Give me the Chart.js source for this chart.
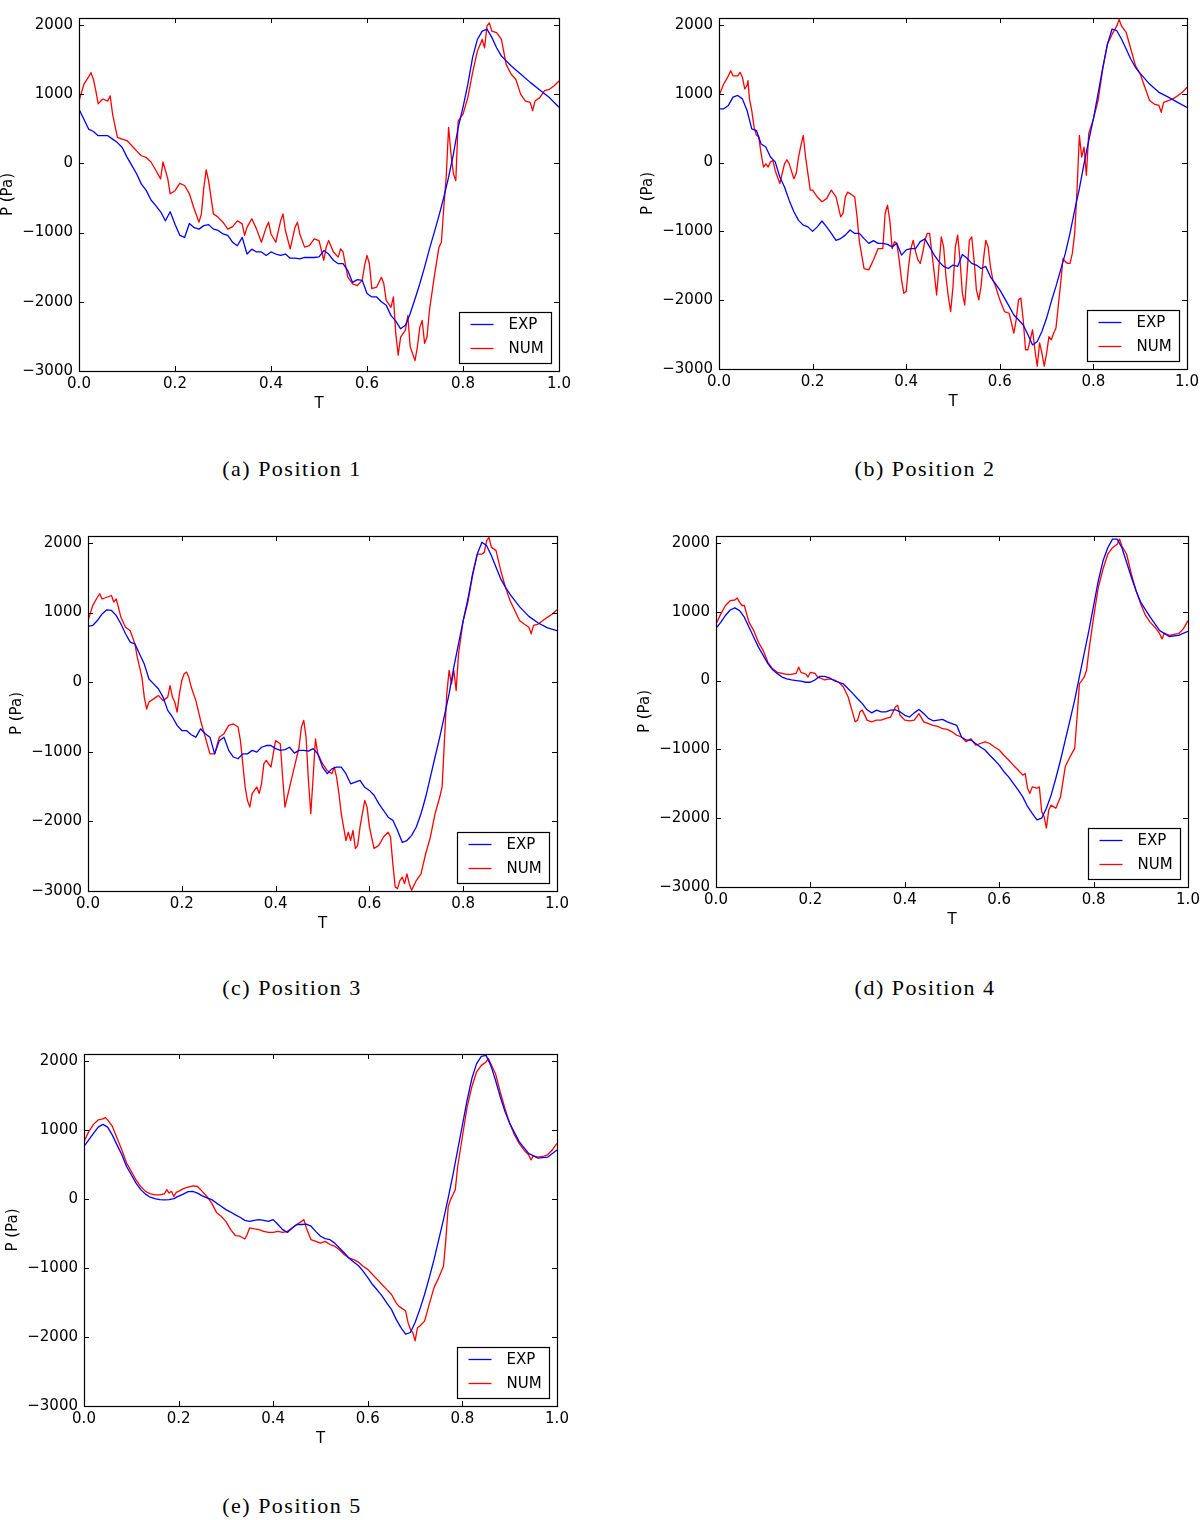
<!DOCTYPE html>
<html>
<head>
<meta charset="utf-8">
<script src="https://cdn.jsdelivr.net/npm/chart.js@4.4.1/dist/chart.umd.min.js"></script>
<style>
  html, body { margin: 0; padding: 0; background: #fff; }
  body { width: 1200px; height: 1520px; position: relative; overflow: hidden; }
  canvas { position: absolute; }
  .cap {
    position: absolute; width: 400px; text-align: center;
    font-family: 'Liberation Serif', serif; font-size: 22px; letter-spacing: 1.5px;
    line-height: 26px; color: #000;
  }
</style>
</head>
<body>
<div class="cap" style="left:92px;top:456px">(a) Position 1</div>
<div class="cap" style="left:725px;top:456px">(b) Position 2</div>
<div class="cap" style="left:92px;top:975px">(c) Position 3</div>
<div class="cap" style="left:725px;top:975px">(d) Position 4</div>
<div class="cap" style="left:92px;top:1493px">(e) Position 5</div>

<script>
// ---------- data ----------
const SERIES = ['EXP', 'NUM'];
const X_TICKS = [0, 0.2, 0.4, 0.6, 0.8, 1.0];
const Y_TICKS = [-3000, -2000, -1000, 0, 1000, 2000];

// EXP curves share one time grid
const T_EXP = [
  0, 0.01, 0.02, 0.03, 0.04, 0.05, 0.06, 0.07, 0.08, 0.09,
  0.10, 0.11, 0.12, 0.13, 0.14, 0.15, 0.16, 0.17, 0.18, 0.19,
  0.20, 0.21, 0.22, 0.23, 0.24, 0.25, 0.26, 0.27, 0.28, 0.29,
  0.30, 0.31, 0.32, 0.33, 0.34, 0.35, 0.36, 0.37, 0.38, 0.39,
  0.40, 0.41, 0.42, 0.43, 0.44, 0.45, 0.46, 0.47, 0.48, 0.49,
  0.50, 0.51, 0.52, 0.53, 0.54, 0.55, 0.56, 0.57, 0.58, 0.59,
  0.60, 0.61, 0.62, 0.63, 0.64, 0.65, 0.66, 0.67, 0.68, 0.69,
  0.70, 0.71, 0.72, 0.73, 0.74, 0.75, 0.76, 0.77, 0.78, 0.79,
  0.80, 0.81, 0.82, 0.83, 0.84, 0.85, 0.86, 0.87, 0.88, 0.89,
  0.90,
  0.92, 0.94, 0.96, 0.98, 1.00,
];

const P_EXP_1 = [
  780, 640, 495, 460, 400, 400, 400, 350, 300, 230,
  90, -30, -150, -300, -390, -530, -610, -700, -830, -700,
  -880, -1040, -1070, -870, -930, -950, -900, -885, -950, -970,
  -1020, -1040, -1140, -1190, -1070, -1310, -1240, -1280, -1280, -1330,
  -1280, -1310, -1330, -1310, -1370, -1370, -1380, -1360, -1360, -1360,
  -1350, -1260, -1310, -1400, -1450, -1450, -1550, -1720, -1680, -1690,
  -1880, -1930, -1930, -2000, -2050, -2200, -2280, -2390, -2340, -2170,
  -1960, -1740, -1500, -1240, -1000, -755, -490, -200, 135, 520,
  810, 1140, 1530, 1790, 1910, 1940, 1820, 1670, 1550, 1480,
  1410,
  1290, 1170, 1060, 950, 810,
];
const P_EXP_2 = [
  780, 780, 830, 950, 975, 925, 755, 490, 465, 270,
  225, 80, 10, -210, -355, -550, -715, -840, -910, -935,
  -1000, -935, -850, -935, -1030, -1130, -1105, -1055, -980, -1030,
  -1030, -1105, -1175, -1135, -1175, -1175, -1190, -1225, -1175, -1345,
  -1270, -1250, -1250, -1150, -1110, -1225, -1345, -1440, -1510, -1540,
  -1490, -1510, -1335, -1390, -1465, -1490, -1540, -1510, -1660, -1755,
  -1850, -1970, -2090, -2215, -2285, -2360, -2500, -2650, -2600, -2455,
  -2260, -2020, -1800, -1560, -1320, -1030, -690, -380, -15, 320,
  635, 1000, 1380, 1720, 1940, 1915, 1795, 1650, 1500, 1380,
  1295,
  1140, 1020, 950, 875, 800,
];
const P_EXP_3 = [
  800, 815, 885, 980, 1040, 1030, 960, 840, 695, 575,
  550, 405, 260, 45, -25, -95, -215, -405, -500, -620,
  -695, -695, -755, -790, -670, -740, -790, -1030, -840, -790,
  -980, -1075, -1100, -1030, -1030, -980, -1005, -935, -910, -910,
  -955, -980, -970, -935, -1020, -980, -980, -990, -955, -1030,
  -1220, -1315, -1245, -1220, -1220, -1315, -1460, -1435, -1410, -1510,
  -1555, -1625, -1745, -1840, -1940, -1985, -2130, -2300, -2275, -2200,
  -2080, -1890, -1650, -1365, -1075, -790, -480, -165, 215, 550,
  885, 1195, 1555, 1840, 2010, 1960, 1820, 1650, 1485, 1365,
  1260,
  1085, 945, 850, 780, 740,
];
const P_EXP_4 = [
  760, 845, 945, 1025, 1055, 1015, 920, 775, 630, 485,
  365, 245, 155, 100, 50, 25, 10, 0, -10, -25,
  -25, 10, 60, 60, 40, 0, -25, -50, -120, -190,
  -265, -335, -425, -470, -430, -455, -455, -430, -425, -455,
  -505, -530, -470, -420, -480, -550, -585, -575, -565, -600,
  -625, -650, -820, -865, -865, -915, -965, -1010, -1085, -1155,
  -1230, -1325, -1400, -1495, -1590, -1690, -1830, -1930, -2025, -2000,
  -1855, -1665, -1420, -1155, -865, -575, -280, 60, 390, 725,
  1090, 1450, 1740, 1930, 2055, 2055, 1930, 1715, 1500, 1305,
  1135,
  920, 725, 640, 655, 715,
];
const P_EXP_5 = [
  760, 855, 950, 1040, 1080, 1040, 925, 780, 640, 470,
  350, 230, 135, 70, 25, 5, -10, -15, -10, 5,
  40, 70, 105, 110, 85, 45, 15, -10, -60, -105,
  -155, -190, -230, -265, -310, -325, -310, -300, -310, -325,
  -300, -370, -445, -485, -420, -370, -370, -365, -395, -470,
  -540, -575, -590, -640, -710, -780, -855, -915, -965, -1045,
  -1140, -1240, -1320, -1405, -1505, -1600, -1745, -1865, -1960, -1935,
  -1790, -1600, -1385, -1140, -880, -590, -300, 15, 350, 710,
  1070, 1430, 1745, 1960, 2065, 2080, 1935, 1720, 1480, 1265,
  1095,
  830, 660, 590, 605, 710,
];

// NUM curves: own (uneven) time samples, taken denser where they oscillate
const T_NUM_1 = [
  0, 0.01, 0.02, 0.025, 0.03, 0.035, 0.04, 0.045, 0.05, 0.06,
  0.065, 0.07, 0.075, 0.08, 0.09, 0.10, 0.11, 0.12, 0.13, 0.14,
  0.15, 0.16, 0.17, 0.175, 0.18, 0.185, 0.19, 0.20, 0.21, 0.22,
  0.23, 0.24, 0.25, 0.255, 0.26, 0.265, 0.27, 0.28, 0.29, 0.30,
  0.31, 0.32, 0.33, 0.34, 0.345, 0.35, 0.36, 0.37, 0.38, 0.39,
  0.395, 0.40, 0.41, 0.42, 0.425, 0.43, 0.44, 0.45, 0.455, 0.46,
  0.47, 0.48, 0.49, 0.50, 0.51, 0.515, 0.52, 0.53, 0.54, 0.545,
  0.55, 0.56, 0.57, 0.58, 0.59, 0.595, 0.60, 0.605, 0.61, 0.62,
  0.63, 0.635, 0.64, 0.65, 0.655, 0.66, 0.665, 0.67, 0.68, 0.685,
  0.69, 0.70, 0.705, 0.71, 0.715, 0.72, 0.725, 0.73, 0.74, 0.75,
  0.755, 0.76, 0.765, 0.77, 0.775, 0.78, 0.785, 0.79, 0.80, 0.81,
  0.82, 0.83, 0.84, 0.845, 0.85, 0.855, 0.86, 0.87, 0.88, 0.89,
  0.90, 0.91, 0.92, 0.93, 0.94, 0.945, 0.95, 0.96, 0.97, 0.98,
  0.99, 1.00,
];
const P_NUM_1 = [
  900, 1140, 1250, 1310, 1215, 1050, 860, 900, 930, 900,
  975, 710, 540, 375, 350, 330, 255, 180, 110, 85,
  20, -100, -225, 20, -100, -225, -440, -395, -290, -320,
  -440, -660, -850, -730, -350, -95, -250, -730, -780, -850,
  -950, -915, -830, -875, -1040, -925, -800, -950, -1140, -925,
  -850, -1020, -1140, -830, -730, -970, -1235, -925, -850, -1020,
  -1210, -1190, -1090, -1115, -1400, -1210, -1115, -1280, -1355, -1235,
  -1280, -1645, -1740, -1765, -1690, -1475, -1330, -1450, -1810, -1790,
  -1645, -1740, -1980, -2080, -1930, -2460, -2770, -2510, -2410, -2200,
  -2650, -2850, -2650, -2370, -2270, -2600, -2510, -2130, -1645, -1210,
  -1140, -635, -200, 520, 135, -150, -250, 615, 710, 950,
  1310, 1625, 1790, 1670, 1985, 2030, 1910, 1890, 1790, 1430,
  1290, 1215, 1000, 900, 880, 760, 900, 950, 1050, 1070,
  1120, 1190,
];

const T_NUM_2 = [
  0, 0.01, 0.02, 0.025, 0.03, 0.04, 0.045, 0.05, 0.055, 0.06,
  0.062, 0.065, 0.07, 0.075, 0.08, 0.085, 0.09, 0.095, 0.10, 0.105,
  0.11, 0.115, 0.12, 0.125, 0.13, 0.135, 0.14, 0.145, 0.15, 0.16,
  0.165, 0.17, 0.175, 0.18, 0.185, 0.19, 0.195, 0.20, 0.21, 0.22,
  0.23, 0.24, 0.25, 0.26, 0.265, 0.27, 0.275, 0.28, 0.29, 0.295,
  0.30, 0.31, 0.32, 0.33, 0.34, 0.35, 0.355, 0.36, 0.365, 0.37,
  0.375, 0.38, 0.385, 0.39, 0.395, 0.40, 0.405, 0.41, 0.415, 0.42,
  0.425, 0.43, 0.435, 0.44, 0.445, 0.45, 0.455, 0.46, 0.465, 0.47,
  0.475, 0.48, 0.485, 0.49, 0.495, 0.50, 0.505, 0.51, 0.515, 0.52,
  0.525, 0.53, 0.535, 0.54, 0.545, 0.55, 0.555, 0.56, 0.565, 0.57,
  0.575, 0.58, 0.585, 0.59, 0.60, 0.61, 0.62, 0.63, 0.635, 0.64,
  0.645, 0.65, 0.655, 0.66, 0.665, 0.67, 0.675, 0.68, 0.685, 0.69,
  0.695, 0.70, 0.705, 0.71, 0.715, 0.72, 0.73, 0.735, 0.74, 0.745,
  0.75, 0.755, 0.76, 0.765, 0.77, 0.775, 0.78, 0.785, 0.79, 0.80,
  0.81, 0.82, 0.83, 0.84, 0.85, 0.855, 0.86, 0.87, 0.88, 0.89,
  0.90, 0.91, 0.92, 0.93, 0.94, 0.945, 0.95, 0.96, 0.97, 0.98,
  0.99, 1.00,
];
const P_NUM_2 = [
  970, 1140, 1260, 1335, 1260, 1260, 1310, 1240, 1070, 1120,
  1190, 925, 755, 515, 395, 370, 130, -65, -20, -65,
  10, 30, -115, -210, -305, -160, -20, 40, -20, -235,
  -160, 80, 250, 395, 80, -160, -400, -400, -500, -570,
  -525, -400, -500, -790, -740, -500, -430, -450, -500, -790,
  -1150, -1540, -1560, -1415, -1250, -1250, -740, -620, -840, -1250,
  -1150, -1175, -1415, -1705, -1900, -1875, -1510, -1250, -1130, -1295,
  -1415, -1465, -1320, -1130, -1030, -1030, -1320, -1610, -1925, -1510,
  -1080, -1225, -1660, -1950, -2165, -1800, -1225, -1055, -1415, -1900,
  -2070, -1610, -1130, -1080, -1415, -1850, -1995, -1800, -1415, -1130,
  -1225, -1510, -1705, -1780, -1995, -2165, -2190, -2480, -2285, -1995,
  -1970, -2285, -2720, -2720, -2575, -2430, -2720, -2960, -2620, -2770,
  -2960, -2770, -2530, -2575, -2480, -2405, -1755, -1395, -1440, -1465,
  -1465, -1320, -1030, -405, 395, 80, 225, -185, 420, 635,
  900, 1360, 1720, 1865, 1985, 2080, 1985, 1890, 1650, 1405,
  1285, 1095, 900, 850, 830, 730, 875, 900, 925, 970,
  1020, 1095,
];

const T_NUM_3 = [
  0, 0.01, 0.02, 0.025, 0.03, 0.04, 0.05, 0.055, 0.06, 0.065,
  0.07, 0.08, 0.09, 0.095, 0.10, 0.105, 0.11, 0.115, 0.12, 0.125,
  0.13, 0.14, 0.15, 0.16, 0.17, 0.175, 0.18, 0.185, 0.19, 0.195,
  0.20, 0.205, 0.21, 0.215, 0.22, 0.23, 0.24, 0.25, 0.26, 0.27,
  0.28, 0.29, 0.30, 0.31, 0.32, 0.325, 0.33, 0.335, 0.34, 0.345,
  0.35, 0.36, 0.365, 0.37, 0.375, 0.38, 0.39, 0.395, 0.40, 0.41,
  0.415, 0.42, 0.43, 0.44, 0.45, 0.455, 0.46, 0.465, 0.47, 0.475,
  0.48, 0.485, 0.49, 0.50, 0.51, 0.52, 0.525, 0.53, 0.535, 0.54,
  0.55, 0.555, 0.56, 0.565, 0.57, 0.575, 0.58, 0.59, 0.595, 0.60,
  0.61, 0.62, 0.63, 0.64, 0.645, 0.65, 0.655, 0.66, 0.665, 0.67,
  0.675, 0.68, 0.685, 0.69, 0.70, 0.71, 0.72, 0.73, 0.74, 0.75,
  0.755, 0.76, 0.765, 0.77, 0.775, 0.78, 0.785, 0.79, 0.80, 0.81,
  0.82, 0.83, 0.84, 0.845, 0.85, 0.855, 0.86, 0.87, 0.88, 0.89,
  0.90, 0.91, 0.92, 0.93, 0.94, 0.945, 0.95, 0.96, 0.97, 0.98,
  0.99, 1.00,
];
const P_NUM_3 = [
  885, 1100, 1220, 1270, 1195, 1220, 1245, 1150, 1195, 1075,
  935, 790, 740, 645, 550, 360, 215, 70, -215, -385,
  -285, -240, -190, -265, -215, -50, -215, -285, -430, -165,
  25, 120, 145, 70, -70, -265, -550, -790, -1030, -1030,
  -790, -740, -620, -600, -645, -840, -1170, -1505, -1700, -1795,
  -1600, -1505, -1600, -1460, -1170, -1125, -1220, -1030, -840, -885,
  -1365, -1795, -1505, -1220, -935, -645, -550, -790, -1410, -1890,
  -1365, -815, -1030, -1170, -1270, -1315, -1220, -1365, -1600, -1890,
  -2275, -2155, -2275, -2130, -2390, -2345, -2080, -1700, -1795, -2080,
  -2390, -2345, -2225, -2155, -2225, -2610, -2945, -2965, -2850, -2800,
  -2895, -2755, -2895, -2990, -2850, -2755, -2465, -2225, -1890, -1650,
  -1505, -840, -165, 170, -25, 170, -120, 405, 885, 1150,
  1530, 1840, 1840, 1865, 2035, 2080, 1940, 1890, 1605, 1365,
  1170, 1030, 885, 835, 790, 695, 815, 835, 885, 935,
  980, 1040,
];

const T_NUM_4 = [
  0, 0.01, 0.02, 0.03, 0.04, 0.045, 0.05, 0.055, 0.06, 0.065,
  0.07, 0.08, 0.09, 0.10, 0.11, 0.12, 0.13, 0.14, 0.15, 0.16,
  0.17, 0.175, 0.18, 0.19, 0.195, 0.20, 0.21, 0.215, 0.22, 0.23,
  0.24, 0.25, 0.26, 0.27, 0.28, 0.29, 0.295, 0.30, 0.305, 0.31,
  0.32, 0.33, 0.34, 0.35, 0.36, 0.37, 0.38, 0.385, 0.39, 0.40,
  0.41, 0.42, 0.43, 0.44, 0.45, 0.46, 0.47, 0.48, 0.49, 0.50,
  0.51, 0.52, 0.53, 0.54, 0.55, 0.56, 0.57, 0.58, 0.59, 0.60,
  0.61, 0.62, 0.63, 0.64, 0.65, 0.655, 0.66, 0.665, 0.67, 0.68,
  0.685, 0.69, 0.695, 0.70, 0.705, 0.71, 0.72, 0.73, 0.74, 0.75,
  0.76, 0.765, 0.77, 0.775, 0.78, 0.785, 0.79, 0.80, 0.81, 0.82,
  0.83, 0.84, 0.85, 0.855, 0.86, 0.87, 0.88, 0.89, 0.90, 0.91,
  0.92, 0.93, 0.94, 0.945, 0.95, 0.96, 0.97, 0.98, 0.99, 1.00,
];
const P_NUM_4 = [
  820, 965, 1090, 1160, 1170, 1200, 1135, 1090, 1090, 965,
  845, 725, 555, 435, 265, 170, 120, 105, 90, 90,
  105, 195, 120, 95, 50, 120, 105, 50, 40, 10,
  25, 10, -25, -95, -240, -480, -600, -575, -455, -430,
  -575, -600, -575, -575, -550, -530, -385, -360, -505, -575,
  -585, -575, -480, -600, -625, -650, -665, -700, -710, -745,
  -795, -820, -890, -845, -940, -915, -890, -915, -965, -1010,
  -1085, -1155, -1230, -1300, -1375, -1350, -1565, -1640, -1545, -1565,
  -1545, -1905, -1975, -2145, -1880, -1810, -1855, -1690, -1250, -1110,
  -985, -530, -45, 0, 50, 145, 435, 920, 1355, 1620,
  1835, 1930, 1980, 2055, 1955, 1835, 1545, 1305, 1110, 945,
  845, 775, 680, 605, 690, 655, 670, 680, 750, 870,
];

const T_NUM_5 = [
  0, 0.01, 0.02, 0.03, 0.04, 0.045, 0.05, 0.06, 0.07, 0.08,
  0.09, 0.10, 0.11, 0.12, 0.13, 0.14, 0.15, 0.16, 0.17, 0.175,
  0.18, 0.185, 0.19, 0.195, 0.20, 0.21, 0.22, 0.23, 0.24, 0.25,
  0.26, 0.27, 0.28, 0.29, 0.30, 0.31, 0.32, 0.33, 0.34, 0.345,
  0.35, 0.36, 0.37, 0.38, 0.39, 0.40, 0.41, 0.42, 0.43, 0.44,
  0.45, 0.46, 0.465, 0.47, 0.48, 0.49, 0.50, 0.51, 0.52, 0.53,
  0.54, 0.55, 0.56, 0.57, 0.58, 0.59, 0.60, 0.61, 0.62, 0.63,
  0.64, 0.65, 0.66, 0.665, 0.67, 0.68, 0.685, 0.69, 0.695, 0.70,
  0.705, 0.71, 0.72, 0.73, 0.74, 0.75, 0.76, 0.765, 0.77, 0.775,
  0.78, 0.785, 0.79, 0.80, 0.81, 0.82, 0.83, 0.84, 0.85, 0.855,
  0.86, 0.87, 0.88, 0.89, 0.90, 0.91, 0.92, 0.93, 0.94, 0.945,
  0.95, 0.96, 0.97, 0.98, 0.99, 1.00,
];
const P_NUM_5 = [
  830, 975, 1080, 1145, 1160, 1180, 1145, 1050, 880, 710,
  520, 400, 275, 180, 110, 75, 60, 60, 75, 135,
  85, 110, 35, 95, 110, 150, 170, 190, 180, 110,
  35, -60, -195, -250, -325, -445, -530, -540, -580, -515,
  -420, -435, -445, -470, -485, -485, -470, -485, -470, -420,
  -370, -325, -300, -420, -590, -615, -640, -615, -660, -685,
  -735, -805, -855, -880, -915, -975, -1020, -1095, -1165, -1240,
  -1310, -1385, -1505, -1550, -1575, -1625, -1790, -1890, -1935, -2055,
  -1865, -1840, -1770, -1525, -1285, -1140, -975, -590, -110, -10,
  60, 135, 470, 905, 1335, 1625, 1840, 1935, 1985, 2035,
  1960, 1815, 1550, 1310, 1095, 930, 805, 710, 640, 565,
  625, 605, 615, 640, 710, 805,
];

// ---------- layout: plot-area boxes in page pixels ----------
const PANELS = [
  { L: 79,  R: 559,  T: 18,   B: 371,  exp: P_EXP_1, tn: T_NUM_1, pn: P_NUM_1 },
  { L: 719, R: 1187, T: 18,   B: 369,  exp: P_EXP_2, tn: T_NUM_2, pn: P_NUM_2 },
  { L: 88,  R: 557,  T: 536,  B: 891,  exp: P_EXP_3, tn: T_NUM_3, pn: P_NUM_3 },
  { L: 716, R: 1188, T: 536,  B: 887,  exp: P_EXP_4, tn: T_NUM_4, pn: P_NUM_4 },
  { L: 84,  R: 557,  T: 1054, B: 1406, exp: P_EXP_5, tn: T_NUM_5, pn: P_NUM_5 },
];

const FONT = { family: 'DejaVu Sans', size: 15 };
const Y_W = 80, X_H = 42, PAD_T = 12, PAD_R = 22;

// frame round the plot with matplotlib-style inward ticks on all four sides
const framePlugin = {
  id: 'frame',
  afterDatasetsDraw(chart) {
    const { ctx, chartArea: a, scales: { x, y } } = chart;
    ctx.save();
    ctx.strokeStyle = '#000';
    ctx.lineWidth = 1;
    ctx.beginPath();
    x.ticks.forEach((t) => {
      const px = Math.round(x.getPixelForValue(t.value)) + 0.5;
      ctx.moveTo(px, a.bottom); ctx.lineTo(px, a.bottom - 5);
      ctx.moveTo(px, a.top); ctx.lineTo(px, a.top + 5);
    });
    y.ticks.forEach((t) => {
      const py = Math.round(y.getPixelForValue(t.value)) + 0.5;
      ctx.moveTo(a.left, py); ctx.lineTo(a.left + 5, py);
      ctx.moveTo(a.right, py); ctx.lineTo(a.right - 5, py);
    });
    ctx.stroke();
    ctx.lineWidth = 1.2;
    ctx.strokeRect(Math.round(a.left) + 0.5, Math.round(a.top) + 0.5,
      Math.round(a.right - a.left), Math.round(a.bottom - a.top));
    ctx.restore();
  },
};

// legend box in the lower-right corner of the plot
const boxLegend = {
  id: 'boxLegend',
  afterDraw(chart) {
    const { ctx, chartArea: a } = chart;
    const x0 = Math.round(a.right) - 100 + 0.5, y0 = Math.round(a.bottom) - 59 + 0.5;
    ctx.save();
    ctx.fillStyle = '#fff';
    ctx.fillRect(x0, y0, 92, 51);
    ctx.strokeStyle = '#000';
    ctx.lineWidth = 1.2;
    ctx.strokeRect(x0, y0, 92, 51);
    ctx.font = '15px "DejaVu Sans"';
    ctx.textBaseline = 'middle';
    chart.data.datasets.forEach((ds, i) => {
      const yy = y0 + 12 + 24 * i;
      ctx.strokeStyle = ds.borderColor;
      ctx.lineWidth = 1.3;
      ctx.beginPath();
      ctx.moveTo(x0 + 11, yy); ctx.lineTo(x0 + 34, yy);
      ctx.stroke();
      ctx.fillStyle = '#000';
      ctx.fillText(ds.label, x0 + 49, yy + 1);
    });
    ctx.restore();
  },
};

function makePanel(p) {
  const w = p.R - p.L, h = p.B - p.T;
  const cw = w + Y_W + PAD_R, ch = h + PAD_T + X_H;
  const cv = document.createElement('canvas');
  cv.width = cw; cv.height = ch;
  cv.style.width = cw + 'px'; cv.style.height = ch + 'px';
  cv.style.left = (p.L - Y_W) + 'px'; cv.style.top = (p.T - PAD_T) + 'px';
  document.body.appendChild(cv);

  const line = (label, color, data) => ({
    label, data, borderColor: color, borderWidth: 1.3,
    pointRadius: 0, tension: 0, borderJoinStyle: 'round', fill: false,
  });

  const chart = new Chart(cv, {
    type: 'line',
    data: {
      datasets: [
        line(SERIES[0], '#0000ff', T_EXP.map((t, i) => ({ x: t, y: p.exp[i] }))),
        line(SERIES[1], '#ff0000', p.tn.map((t, i) => ({ x: t, y: p.pn[i] }))),
      ],
    },
    options: {
      responsive: false,
      maintainAspectRatio: false,
      animation: false,
      layout: { padding: { left: 0, right: PAD_R, top: PAD_T, bottom: 0 } },
      plugins: { legend: { display: false }, tooltip: { enabled: false } },
      scales: {
        x: {
          type: 'linear', min: 0, max: 1,
          afterBuildTicks: (s) => { s.ticks = X_TICKS.map((v) => ({ value: v })); },
          ticks: {
            color: '#000', font: FONT, padding: 4, maxRotation: 0, autoSkip: false,
            callback: (v) => Number(v).toFixed(1),
          },
          grid: { display: false, drawTicks: false },
          border: { display: false },
          title: { display: true, text: 'T', color: '#000', font: FONT, padding: 0 },
          afterFit: (s) => { s.height = X_H; s.paddingLeft = 0; s.paddingRight = 0; },
        },
        y: {
          type: 'linear', min: -3000, max: 2100,
          afterBuildTicks: (s) => { s.ticks = Y_TICKS.map((v) => ({ value: v })); },
          ticks: {
            color: '#000', font: FONT, padding: 6, autoSkip: false,
            callback: (v) => (v < 0 ? '\u2212' + Math.abs(v) : String(v)),
          },
          grid: { display: false, drawTicks: false },
          border: { display: false },
          title: { display: true, text: 'P (Pa)', color: '#000', font: FONT, padding: 0 },
          afterFit: (s) => { s.width = Y_W; s.paddingTop = 0; s.paddingBottom = 0; },
        },
      },
    },
    plugins: [framePlugin, boxLegend],
  });

  // make the plot area land exactly on the target box
  let ca = chart.chartArea;
  const dw = w - (ca.right - ca.left), dh = h - (ca.bottom - ca.top);
  if (Math.abs(dw) > 0.5 || Math.abs(dh) > 0.5) {
    chart.resize(cw + dw, ch + dh);
    ca = chart.chartArea;
  }
  cv.style.left = (p.L - ca.left) + 'px';
  cv.style.top = (p.T - ca.top) + 'px';
}

PANELS.forEach(makePanel);
</script>
</body>
</html>
